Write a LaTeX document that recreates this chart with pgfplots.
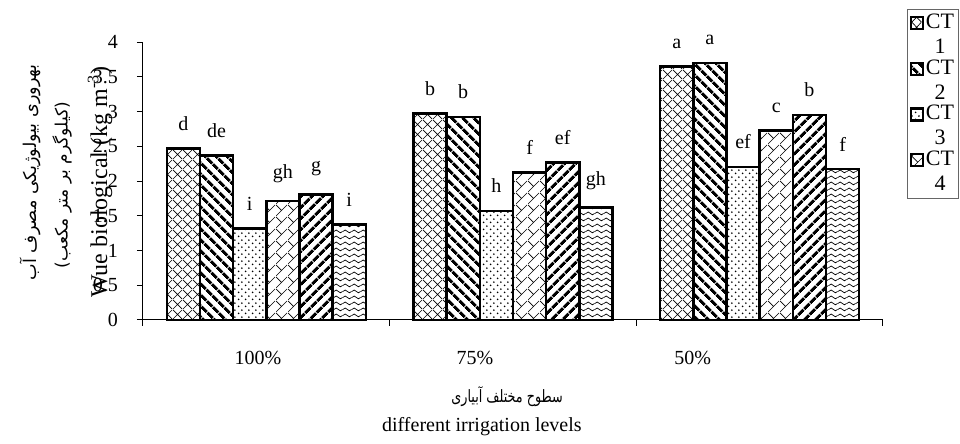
\documentclass[border=0pt]{standalone}
\usepackage{fontspec}
\setmainfont{Liberation Serif}
\newfontfamily\arabicfont[Script=Arabic]{DejaVu Sans}
\TeXXeTstate=1
\usepackage{pgfplots}
\pgfplotsset{compat=1.18}
\usepackage{pgfplotstable}
\usetikzlibrary{patterns,patterns.meta}

\tikzdeclarepattern{name=xhatch, type=uncolored,
  bounding box={(0pt,0pt) and (4.8pt,4.8pt)}, tile size={(4.8pt,4.8pt)},
  code={\draw[line width=0.35pt] (0pt,0pt)--(4.8pt,4.8pt) (0pt,4.8pt)--(4.8pt,0pt);}}
\tikzdeclarepattern{name=dbricks, type=uncolored,
  bounding box={(0pt,0pt) and (6pt,6pt)}, tile size={(6pt,6pt)},
  code={\draw[line width=0.35pt] (0pt,0pt)--(6pt,6pt) (0pt,6pt)--(3pt,3pt);}}
\tikzdeclarepattern{name=sdots, type=uncolored,
  bounding box={(0pt,0pt) and (3.6pt,3.6pt)}, tile size={(3.6pt,3.6pt)},
  code={\fill (0.9pt,0.9pt) circle (0.5pt) (2.7pt,2.7pt) circle (0.5pt);}}
\tikzdeclarepattern{name=waves, type=uncolored,
  bounding box={(0pt,0pt) and (4.4pt,3pt)}, tile size={(4.4pt,3pt)},
  code={\draw[line width=0.4pt] (0pt,1.5pt) sin (1.1pt,2.3pt) cos (2.2pt,1.5pt) sin (3.3pt,0.7pt) cos (4.4pt,1.5pt);}}

\pgfplotstableread{
x y lab
0 2.47 d
1 2.97 b
2 3.65 a
}\tA
\pgfplotstableread{
x y lab
0 2.37 de
1 2.92 b
2 3.70 a
}\tB
\pgfplotstableread{
x y lab
0 1.32 i
1 1.57 h
2 2.20 ef
}\tC
\pgfplotstableread{
x y lab
0 1.71 gh
1 2.12 f
2 2.73 c
}\tD
\pgfplotstableread{
x y lab
0 1.81 g
1 2.27 ef
2 2.95 b
}\tE
\pgfplotstableread{
x y lab
0 1.37 i
1 1.62 gh
2 2.17 f
}\tF

\begin{document}
\begin{tikzpicture}
\useasboundingbox (-71.5pt,-62pt) rectangle (408.5pt,160pt);
\begin{axis}[
  at={(0pt,0pt)}, anchor=south west,
  scale only axis, width=370pt, height=139pt,
  xmin=-0.5, xmax=2.5, ymin=0, ymax=4,
  clip=false,
  axis lines*=left, axis line style={-, line width=0.5pt},
  ybar=0pt, bar width=0.1345,
  tick align=outside, major tick length=3pt, tick style={black, line width=0.5pt},
  ytick={0,0.5,1,1.5,2,2.5,3,3.5,4},
  yticklabels={0,0.5,1,1.5,2,2.5,3,3.5,4},
  yticklabel style={xshift=-6pt},
  xtick={-0.5,0.5,1.5,2.5}, xticklabels={},
  extra x ticks={-0.034,0.846,1.729},
  extra x tick labels={100\%,75\%,50\%},
  extra x tick style={major tick length=0pt, xticklabel style={yshift=-12pt}},
  tick label style={font=\fontsize{10}{12}\selectfont},
  nodes near coords, point meta=explicit symbolic,
  every node near coord/.append style={font=\fontsize{10}{12}\selectfont, yshift=5pt},
  legend entries={CT\\1,CT\\2,CT\\3,CT\\4},
  legend cell align=left,
  legend style={at={(1.103,1.12)}, anchor=north east, draw=black!60, line width=0.5pt,
    font=\fontsize{11}{12.5}\selectfont, nodes={align=center, inner sep=0.8pt},
    inner sep=1.5pt, row sep=0pt},
  legend image code/.code={\draw[#1, line width=1.1pt] (0pt,3pt) rectangle (6pt,9pt);},
]
\addplot[draw=black, line width=1.3pt, pattern=xhatch] table[x=x,y=y,meta=lab]{\tA};
\addplot[draw=black, line width=1.3pt, pattern={Lines[angle=-45,distance=4pt,line width=1.6pt]}] table[x=x,y=y,meta=lab]{\tB};
\addplot[draw=black, line width=1.3pt, pattern=sdots] table[x=x,y=y,meta=lab]{\tC};
\addplot[draw=black, line width=1.3pt, pattern=dbricks] table[x=x,y=y,meta=lab]{\tD};
\addplot[draw=black, line width=1.3pt, pattern={Lines[angle=45,distance=4pt,line width=1.6pt]}] table[x=x,y=y,meta=lab]{\tE};
\addplot[draw=black, line width=1.3pt, pattern=waves] table[x=x,y=y,meta=lab]{\tF};

\node[rotate=90, font=\arabicfont\fontsize{8.8}{11}\selectfont] at (axis description cs:-0.1527,0.532) {\beginR بهروری بیولوژیکی مصرف آب\endR};
\node[rotate=90, font=\arabicfont\fontsize{8.5}{11}\selectfont] at (axis description cs:-0.1095,0.486) {\beginR (کیلوگرم بر متر مکعب)\endR};
\node[rotate=90, font=\fontsize{12}{14}\selectfont] at (axis description cs:-0.058,0.496) {Wue biological (kg m\textsuperscript{-3})};
\node[xscale=0.75, font=\arabicfont\fontsize{8.5}{11}\selectfont] at (axis description cs:0.492,-0.277) {\beginR سطوح مختلف آبیاری\endR};
\node[font=\fontsize{10}{12}\selectfont] at (axis description cs:0.458,-0.385) {different irrigation levels};
\end{axis}
\end{tikzpicture}
\end{document}
